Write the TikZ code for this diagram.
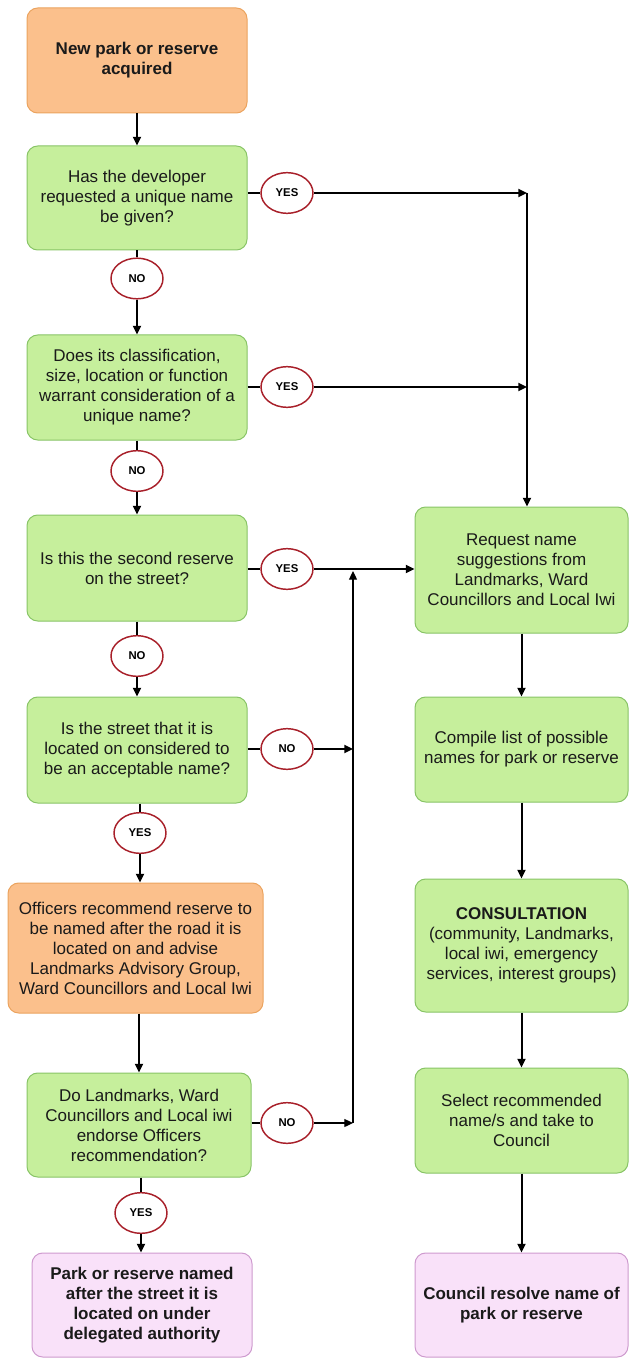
\documentclass[tikz,border=0pt]{standalone}
\usepackage{fontspec}
\setmainfont{Liberation Sans}
\usetikzlibrary{shapes.geometric,arrows.meta}
\definecolor{gfill}{HTML}{C6EF9C}
\definecolor{gline}{HTML}{88C466}
\definecolor{ofill}{HTML}{FBC08C}
\definecolor{oline}{HTML}{EBA35E}
\definecolor{pfill}{HTML}{F9E1F9}
\definecolor{pline}{HTML}{CE9ACE}
\definecolor{rline}{HTML}{A8202A}
\definecolor{txt}{HTML}{1A1A1A}
\begin{document}
\begin{tikzpicture}[x=0.75pt,y=-0.75pt,
  box/.style={rectangle,rounded corners=8pt,line width=0.75pt,align=center,
    inner sep=2pt,text=txt,font=\fontsize{12.75}{15}\selectfont},
  gbox/.style={box,fill=gfill,draw=gline},
  obox/.style={box,fill=ofill,draw=oline},
  pbox/.style={box,fill=pfill,draw=pline,font=\fontsize{12.75}{15}\selectfont\bfseries},
  lab/.style={ellipse,draw=rline,fill=white,line width=1.1pt,minimum width=39pt,
    minimum height=30.5pt,inner sep=0pt,font=\fontsize{8.5}{10}\selectfont\bfseries,text=black},
  con/.style={line width=1.5pt,draw=black},
  arr/.style={con,-{Triangle[length=6.5pt,width=6pt]}},
  thin/.style={line width=0.9pt,draw=black},
  tarr/.style={thin,-{Triangle[length=6.5pt,width=6pt]}}
]
\useasboundingbox (0,0) rectangle (629,1358);

% left column
\node[obox,minimum width=165pt,minimum height=78.75pt,font=\fontsize{12.75}{15}\selectfont\bfseries] (n1) at (137,60.5) {New park or reserve\\acquired};
\node[gbox,minimum width=165pt,minimum height=78pt] (q1) at (137,198) {Has the developer\\requested a unique name\\be given?};
\node[gbox,minimum width=165pt,minimum height=78.75pt] (q2) at (137,387.5) {Does its classification,\\size, location or function\\warrant consideration of a\\unique name?};
\node[gbox,minimum width=165pt,minimum height=79.5pt] (q3) at (137,568) {Is this the second reserve\\on the street?};
\node[gbox,minimum width=165pt,minimum height=79.5pt] (q4) at (137,750) {Is the street that it is\\located on considered to\\be an acceptable name?};
\node[obox,minimum width=191.25pt,minimum height=97.5pt] (off) at (135.5,948) {Officers recommend reserve to\\be named after the road it is\\located on and advise\\Landmarks Advisory Group,\\Ward Councillors and Local Iwi};
\node[gbox,minimum width=168pt,minimum height=78pt] (q5) at (139,1125) {Do Landmarks, Ward\\Councillors and Local iwi\\endorse Officers\\recommendation?};
\node[pbox,minimum width=165pt,minimum height=78pt] (p1) at (142,1305) {Park or reserve named\\after the street it is\\located on under\\delegated authority};

% right column
\node[gbox,minimum width=159.75pt,minimum height=94.5pt] (r1) at (521.5,570) {Request name\\suggestions from\\Landmarks, Ward\\Councillors and Local Iwi};
\node[gbox,minimum width=159.75pt,minimum height=78.75pt] (r2) at (521.5,749.5) {Compile list of possible\\names for park or reserve};
\node[gbox,minimum width=159.75pt,minimum height=99.75pt] (r3) at (521.5,945.5) {\textbf{CONSULTATION}\\(community, Landmarks,\\local iwi, emergency\\services, interest groups)};
\node[gbox,minimum width=159.75pt,minimum height=78.75pt] (r4) at (521.5,1120.5) {Select recommended\\name/s and take to\\Council};
\node[pbox,minimum width=159.75pt,minimum height=78pt] (r5) at (521.5,1305) {Council resolve name of\\park or reserve};

% yes/no labels
\node[lab] (y1) at (287,193) {YES};
\node[lab] (no1) at (137,278.5) {NO};
\node[lab] (y2) at (287,387) {YES};
\node[lab] (no2) at (137,471) {NO};
\node[lab] (y3) at (287,569) {YES};
\node[lab] (no3) at (137,656) {NO};
\node[lab] (no4) at (287,749) {NO};
\node[lab] (y4) at (140,833) {YES};
\node[lab] (no5) at (287,1123) {NO};
\node[lab] (y5) at (141,1213) {YES};

% junction coordinates
\coordinate (j1) at (527,193);
\coordinate (j2) at (527,387);
\coordinate (j3) at (353,749);
\coordinate (j4) at (353,1123);
\coordinate (j5) at (353,571);

% left column connectors
\draw[arr] (n1.south) -- (q1.north);
\draw[con] (q1.south) -- (no1.north);
\draw[arr] (no1.south) -- (q2.north);
\draw[con] (q2.south) -- (no2.north);
\draw[arr] (no2.south) -- (q3.north);
\draw[con] (q3.south -| no3) -- (no3.north);
\draw[arr] (no3.south) -- (no3.south |- q4.north);
\draw[con] (q4.south -| y4) -- (y4.north);
\draw[arr] (y4.south) -- (y4.south |- off.north);
\draw[arr] (off.south -| q5) -- (q5.north);
\draw[con] (q5.south -| y5) -- (y5.north);
\draw[arr] (y5.south) -- (y5.south |- p1.north);

% yes branches to the right
\draw[con] (q1.east |- y1) -- (y1.west);
\draw[arr] (y1.east) -- (j1);
\draw[con] (q2.east |- y2) -- (y2.west);
\draw[arr] (y2.east) -- (j2);
\draw[thin] (j1) -- (j2);
\draw[arr] (j2) -- (j2 |- r1.north);
\draw[con] (q3.east |- y3) -- (y3.west);
\draw[arr] (y3.east) -- (y3 -| r1.west);

% no branches back
\draw[con] (q4.east |- no4) -- (no4.west);
\draw[arr] (no4.east) -- (j3);
\draw[thin] (q5.east |- no5) -- (no5.west);
\draw[tarr] (no5.east) -- (j4);
\draw[tarr] (j4) -- (j5);

% right column connectors
\draw[arr] (r1.south) -- (r2.north);
\draw[arr] (r2.south) -- (r3.north);
\draw[arr] (r3.south) -- (r4.north);
\draw[arr] (r4.south) -- (r5.north);
\end{tikzpicture}
\end{document}
